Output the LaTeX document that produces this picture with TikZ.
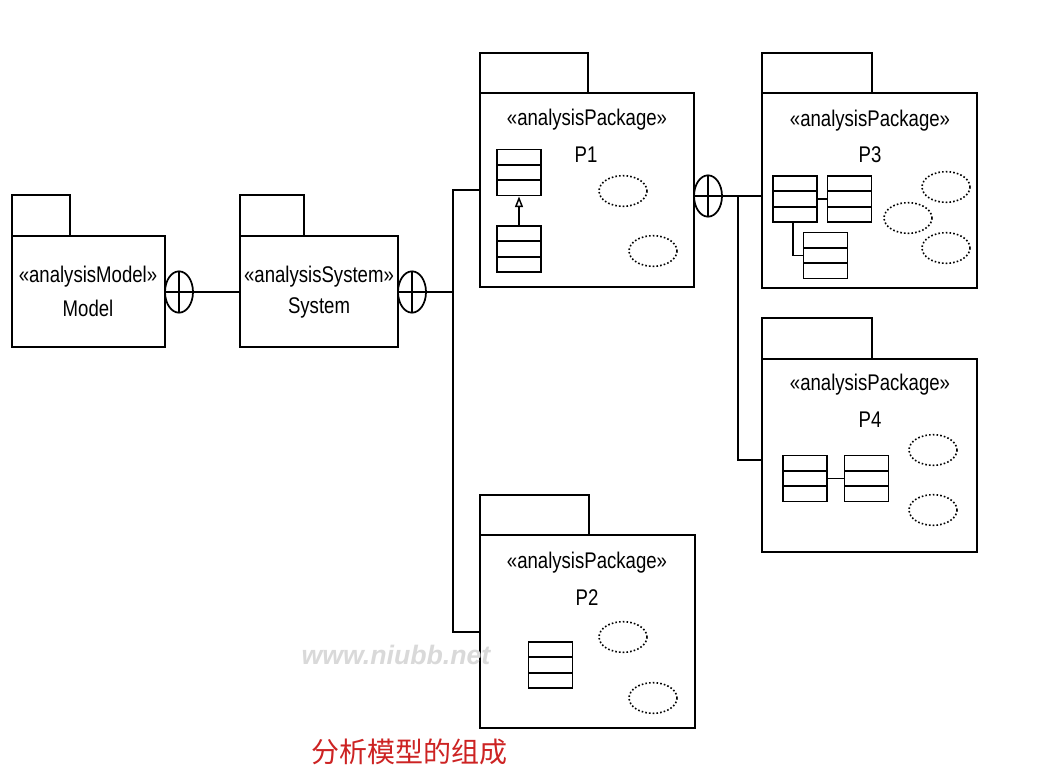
\documentclass[tikz,border=0pt]{standalone}
\usepackage{fontspec}
\setmainfont{Liberation Sans}
\newfontfamily\cjk{Noto Sans CJK SC}
\usetikzlibrary{fit,shapes.geometric,arrows.meta,calc}
\definecolor{capred}{RGB}{205,35,35}
\newcommand\narrowtxt[1]{\scalebox{0.82}[1]{#1}}
\begin{document}
\begin{tikzpicture}[x=0.75pt,y=-0.75pt,
  box/.style={draw,line width=1.5pt,inner sep=0pt},
  lbl/.style={font=\fontsize{17}{20}\selectfont,inner sep=0pt},
  conn/.style={line width=1.4pt},
  cls/.style={draw,line width=1.4pt,minimum width=33pt,minimum height=34.5pt,inner sep=0pt,
    path picture={\draw[line width=1.4pt]
      ($(path picture bounding box.north west)!1/3!(path picture bounding box.south west)$) --
      ($(path picture bounding box.north east)!1/3!(path picture bounding box.south east)$)
      ($(path picture bounding box.north west)!2/3!(path picture bounding box.south west)$) --
      ($(path picture bounding box.north east)!2/3!(path picture bounding box.south east)$);}},
  uc/.style={ellipse,draw,line width=1.2pt,dash pattern=on 1.2pt off 1.6pt,minimum width=36pt,minimum height=23pt,inner sep=0pt},
  oplus/.style={ellipse,draw,line width=1.3pt,minimum width=21pt,minimum height=31pt,inner sep=0pt,fill=white,
    path picture={\draw[line width=1.3pt] (path picture bounding box.north) -- (path picture bounding box.south)
      (path picture bounding box.west) -- (path picture bounding box.east);}}
]
\fill[white] (0,0) rectangle (1037,778);
\useasboundingbox (0,0) rectangle (1037,778);

% Model
\node[box,fit={(12,195)(70,236)}] (mtab) {};
\node[box,fit={(12,236)(165,347)}] (model) {};
\node[lbl] (mst) at (88,277) {\narrowtxt{«analysisModel»}};
\node[lbl] (mname) at (88,308) {\narrowtxt{Model}};

% System
\node[box,fit={(240,195)(304,236)}] (stab) {};
\node[box,fit={(240,236)(398,347)}] (system) {};
\node[lbl] (sst) at (319,277) {\narrowtxt{«analysisSystem»}};
\node[lbl] (sname) at (319,308) {\narrowtxt{System}};

% P1
\node[box,fit={(480,53)(588,93)}] (p1tab) {};
\node[box,fit={(480,93)(694,287)}] (p1) {};
\node[lbl] (p1st) at (587,120) {\narrowtxt{«analysisPackage»}};
\node[lbl] (p1name) at (586,155) {\narrowtxt{P1}};
\node[cls] (k1) at (519,172.5) {};
\node[cls] (k2) at (519,249) {};
\node[uc] (p1u1) at (623,191) {};
\node[uc] (p1u2) at (653,251) {};
\draw[line width=1.1pt,-{Triangle[open,length=8pt,width=6pt]}] (k2.north) -- (k1.south);

% P2
\node[box,fit={(480,495)(589,535)}] (p2tab) {};
\node[box,fit={(480,535)(695,728)}] (p2) {};
\node[lbl] (p2st) at (587,563) {\narrowtxt{«analysisPackage»}};
\node[lbl] (p2name) at (587,598) {\narrowtxt{P2}};
\node[cls] (k3) at (550.5,665) {};
\node[uc] (p2u1) at (623,637) {};
\node[uc] (p2u2) at (653,698) {};

% P3
\node[box,fit={(762,53)(872,93)}] (p3tab) {};
\node[box,fit={(762,93)(977,288)}] (p3) {};
\node[lbl] (p3st) at (870,121) {\narrowtxt{«analysisPackage»}};
\node[lbl] (p3name) at (870,155) {\narrowtxt{P3}};
\node[cls] (ka) at (795,199) {};
\node[cls] (kb) at (849.5,199) {};
\node[cls] (kc) at (825.5,255.5) {};
\node[uc] (p3u1) at (946,187) {};
\node[uc] (p3u2) at (908,218) {};
\node[uc] (p3u3) at (946,248) {};
\draw[line width=1.3pt] (ka) -- (kb);
\draw[line width=1.3pt] ([xshift=-1.5pt]ka.south) |- (kc.west);

% P4
\node[box,fit={(762,318)(872,359)}] (p4tab) {};
\node[box,fit={(762,359)(977,552)}] (p4) {};
\node[lbl] (p4st) at (870,385) {\narrowtxt{«analysisPackage»}};
\node[lbl] (p4name) at (870,420) {\narrowtxt{P4}};
\node[cls] (kd) at (805,478.5) {};
\node[cls] (ke) at (866.5,478.5) {};
\node[uc] (p4u1) at (933,450) {};
\node[uc] (p4u2) at (933,510) {};
\draw[line width=1.3pt] (kd) -- (ke);

% connectors
\coordinate (j1top) at (453,190);
\coordinate (j1bot) at (453,632);
\coordinate (j2top) at (738,196);
\coordinate (j2bot) at (738,460);
\node[oplus] (c1) at (179,292) {};
\node[oplus] (c2) at (412,292) {};
\node[oplus] (c3) at (708,196) {};
\draw[conn] (c1.east) -- (c1.east -| system.west);
\draw[conn] (c2.east) -- (c2.east -| j1top);
\draw[conn] (p1.west |- j1top) -- (j1top) -- (j1bot) -- (j1bot -| p2.west);
\draw[conn] (c3.east) -- (c3.east -| p3.west);
\draw[conn] (j2top) -- (j2bot) -- (j2bot -| p4.west);

% watermark and caption
\node[text=gray!30,font=\fontsize{20}{23}\selectfont\bfseries\itshape,inner sep=0pt] (wm) at (396,655) {www.niubb.net};
\node[text=capred,font=\cjk\fontsize{21}{24}\selectfont,inner sep=0pt] (cap) at (409,752) {分析模型的组成};
\end{tikzpicture}
\end{document}
